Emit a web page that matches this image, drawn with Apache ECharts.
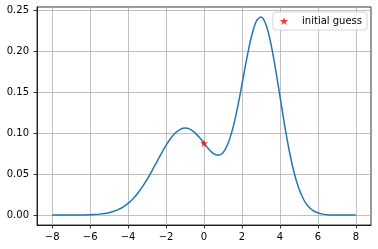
<!DOCTYPE html>
<html>
<head>
<meta charset="utf-8">
<script src="https://cdn.jsdelivr.net/npm/echarts@6/dist/echarts.min.js"></script>
<style>html,body{margin:0;padding:0;background:#fff;}#c{width:378px;height:249px;}</style>
</head>
<body>
<div id="c"></div>
<script>
// x positions of the sampled curve
const xs = [-8,-7.75,-7.5,-7.25,-7,-6.75,-6.5,-6.25,-6,-5.75,-5.5,-5.25,-5,-4.75,-4.5,-4.25,-4,-3.75,-3.5,-3.25,-3,-2.75,-2.5,-2.25,-2,-1.75,-1.5,-1.25,-1,-0.75,-0.5,-0.25,0,0.25,0.5,0.75,1,1.25,1.5,1.75,2,2.25,2.5,2.75,3,3.25,3.5,3.75,4,4.25,4.5,4.75,5,5.25,5.5,5.75,6,6.25,6.5,6.75,7,7.25,7.5,7.75,8];
// curve values
const ys = [0.0000,0.0000,0.0000,0.0000,0.0000,0.0001,0.0001,0.0002,0.0004,0.0007,0.0012,0.0019,0.0030,0.0047,0.0070,0.0102,0.0144,0.0198,0.0265,0.0345,0.0437,0.0539,0.0645,0.0752,0.0852,0.0939,0.1007,0.1049,0.1065,0.1051,0.1012,0.0951,0.0879,0.0807,0.0752,0.0733,0.0763,0.0866,0.1045,0.1296,0.1598,0.1910,0.2184,0.2368,0.2424,0.2339,0.2125,0.1814,0.1456,0.1098,0.0778,0.0518,0.0324,0.0191,0.0105,0.0055,0.0027,0.0012,0.0005,0.0002,0.0001,0.0000,0.0000,0.0000,0.0000];
// initial guess point
const guessX = [0];
const guessY = [0.088];
const guessName = 'initial guess';
// tick labels
const xTicks = [-8,-6,-4,-2,0,2,4,6,8];
const yTicks = [0,0.05,0.10,0.15,0.20,0.25];

const starPath = 'path://M50,0 L61.2,34.5 L97.6,34.5 L68.2,55.9 L79.4,90.5 L50,69.1 L20.6,90.5 L31.8,55.9 L2.4,34.5 L38.8,34.5 Z';

const chart = echarts.init(document.getElementById('c'), null, {renderer: 'canvas'});
const font = 'DejaVu Sans';
const axisCommon = {
  axisLine: {show: true, onZero: false, lineStyle: {color: '#000', width: 0.8}},
  axisTick: {show: true, inside: false, length: 3.5, lineStyle: {color: '#000', width: 0.8}},
  splitLine: {show: true, lineStyle: {color: '#b0b0b0', width: 0.8}},
};
chart.setOption({
  animation: false,
  backgroundColor: '#fff',
  textStyle: {fontFamily: font},
  grid: {left: 37, right: 7, top: 7, bottom: 24, containLabel: false, outerBoundsMode: 'none',
         show: true, borderColor: '#000', borderWidth: 0.8, backgroundColor: 'transparent'},
  legend: {
    data: [guessName],
    right: 11, top: 12,
    orient: 'vertical',
    itemWidth: 14, itemHeight: 8,
    itemGap: 0,
    padding: [4, 5, 4, 7],
    borderColor: '#cccccc', borderWidth: 0.8, borderRadius: 3,
    backgroundColor: 'rgba(255,255,255,0.8)',
    textStyle: {fontFamily: font, fontSize: 10, color: '#000', padding: [0, 0, 0, 6]}
  },
  xAxis: Object.assign({}, axisCommon, {
    type: 'value', min: -8.8, max: 8.8,
    axisTick: Object.assign({}, axisCommon.axisTick, {customValues: xTicks}),
    splitLine: Object.assign({}, axisCommon.splitLine, {customValues: xTicks}),
    axisLabel: {customValues: xTicks, margin: 7, fontFamily: font, fontSize: 10, color: '#000',
      formatter: v => v < 0 ? '\u2212' + Math.abs(v) : String(v)}
  }),
  yAxis: Object.assign({}, axisCommon, {
    type: 'value', min: -0.0121, max: 0.2545,
    axisTick: Object.assign({}, axisCommon.axisTick, {customValues: yTicks}),
    splitLine: Object.assign({}, axisCommon.splitLine, {customValues: yTicks}),
    axisLabel: {customValues: yTicks, margin: 8, fontFamily: font, fontSize: 10, color: '#000',
      formatter: v => v.toFixed(2)}
  }),
  series: [
    {
      type: 'line', name: 'curve',
      data: xs.map((x, i) => [x, ys[i]]),
      showSymbol: false, smooth: 0.3,
      lineStyle: {color: '#1f77b4', width: 1.5},
      itemStyle: {color: '#1f77b4'}, z: 3
    },
    {
      type: 'scatter', name: guessName,
      data: guessX.map((x, i) => [x, guessY[i]]),
      symbol: starPath, symbolSize: 8,
      itemStyle: {color: '#ff0000'}, z: 5
    }
  ]
});
</script>
</body>
</html>
